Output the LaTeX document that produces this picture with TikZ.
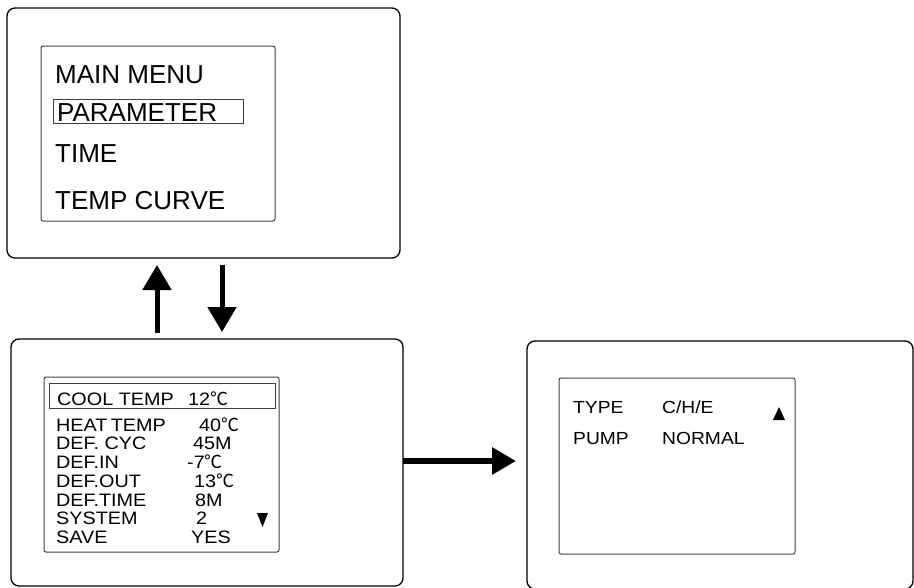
\documentclass[tikz,border=0pt]{standalone}
\usepackage{fontspec}
\setmainfont{Liberation Sans}
\newfontfamily\degfont{Noto Sans CJK SC}
\usetikzlibrary{arrows.meta,calc}
\newcommand{\dgc}{\smash{\degfont ℃}}
\newcommand{\widetxt}[2]{\scalebox{#1}[1]{#2}}
\tikzset{
  outerbox/.style={draw=black, line width=1.3pt, rounded corners=8pt, anchor=north west, inner sep=0pt, outer sep=0pt},
  screenbox/.style={draw=black!75, line width=1pt, rounded corners=2pt, anchor=north west, inner sep=0pt, outer sep=0pt},
  selbox/.style={draw=black!75, line width=1pt, anchor=north west, inner sep=0pt, outer sep=0pt},
  bigtxt/.style={anchor=base west, inner sep=0pt, font=\fontsize{26}{30}\selectfont},
  midtxt/.style={anchor=base west, inner sep=0pt, font=\fontsize{18}{20}\selectfont},
  smalltxt/.style={anchor=base west, inner sep=0pt, font=\fontsize{17.5}{20}\selectfont},
  bigarrow/.style={line width=5pt, -{Triangle[width=28pt,length=25pt]}},
  sidearrow/.style={line width=6pt, -{Triangle[width=26pt,length=24pt]}}
}
\begin{document}
\begin{tikzpicture}[x=1pt,y=-1pt]
\useasboundingbox (0,0) rectangle (914,587);
% top screen
\node[outerbox, minimum width=393pt, minimum height=250pt] (main) at (7,8) {};
\node[screenbox, minimum width=234pt, minimum height=175pt] (mainscr) at (41,46) {};
\node[selbox, minimum width=190pt, minimum height=24pt] (mainsel) at (53,99) {};
\node[bigtxt] (t1) at (55,83) {MAIN MENU};
\node[bigtxt] (t2) at (57,121) {PARAMETER};
\node[bigtxt] (t3) at (55,162) {TIME};
\node[bigtxt] (t4) at (55,209) {TEMP CURVE};
% parameter screen
\node[outerbox, minimum width=392pt, minimum height=247pt] (params) at (11,339) {};
\node[screenbox, minimum width=235pt, minimum height=175pt] (parscr) at (44,377) {};
\node[selbox, minimum width=226pt, minimum height=25pt] (parsel) at (49,383) {};
\node[midtxt] (p0) at (57,405) {\widetxt{1.1}{COOL TEMP}};
\node[midtxt] (v0) at (188,405) {\widetxt{1.1}{12}\dgc};
\node[midtxt] (p1) at (56,431) {\widetxt{1.1}{HEAT\hspace{3pt}TEMP}};
\node[midtxt] (v1) at (199,431) {\widetxt{1.1}{40}\dgc};
\node[midtxt] (p2) at (56,449) {\widetxt{1.1}{DEF. CYC}};
\node[midtxt] (v2) at (193,449) {\widetxt{1.1}{45M}};
\node[midtxt] (p3) at (56,468) {\widetxt{1.1}{DEF.IN}};
\node[midtxt] (v3) at (187,468) {\widetxt{1.1}{-7}\dgc};
\node[midtxt] (p4) at (56,487) {\widetxt{1.1}{DEF.OUT}};
\node[midtxt] (v4) at (194,487) {\widetxt{1.1}{13}\dgc};
\node[midtxt] (p5) at (56,506) {\widetxt{1.1}{DEF.TIME}};
\node[midtxt] (v5) at (195,506) {\widetxt{1.1}{8M}};
\node[midtxt] (p6) at (56,524) {\widetxt{1.1}{SYSTEM}};
\node[midtxt] (v6) at (196,524) {\widetxt{1.1}{2}};
\node[midtxt] (p7) at (56,543) {\widetxt{1.1}{SAVE}};
\node[midtxt] (v7) at (191,543) {\widetxt{1.1}{YES}};
\fill (257,513) -- (268,513) -- (262.5,527) -- cycle;
% type screen
\node[outerbox, minimum width=386pt, minimum height=248pt] (types) at (527,341) {};
\node[screenbox, minimum width=236pt, minimum height=176pt] (typescr) at (559,378) {};
\node[smalltxt] (r1) at (573,413) {\widetxt{1.1}{TYPE}};
\node[smalltxt] (s1) at (662,413) {\widetxt{1.1}{C/H/E}};
\node[smalltxt] (r2) at (573,444) {\widetxt{1.1}{PUMP}};
\node[smalltxt] (s2) at (662,444) {\widetxt{1.1}{NORMAL}};
\fill (773,420) -- (785,420) -- (779,407) -- cycle;
% arrows
\draw[bigarrow] ($(params.north west)+(146,-6)$) -- ($(main.south west)+(150,7)$);
\draw[bigarrow] ($(main.south west)+(215,7)$) -- ($(params.north west)+(211,-7)$);
\draw[sidearrow] (params.east |- 0,461) -- ($(types.west |- 0,461)+(-11,0)$);
\end{tikzpicture}
\end{document}
